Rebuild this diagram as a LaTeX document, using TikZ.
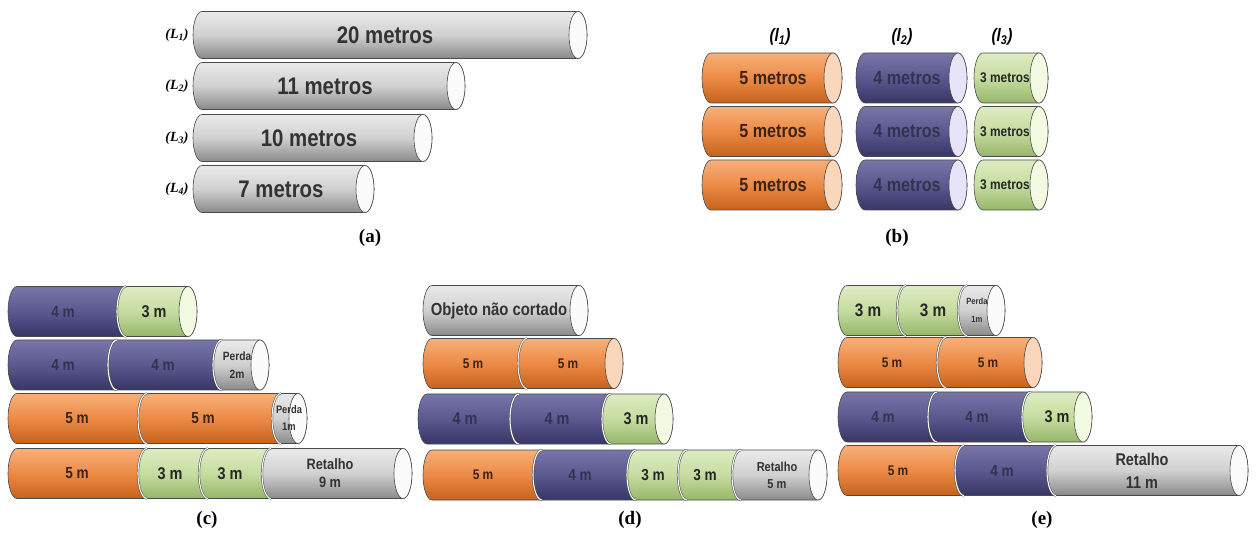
\documentclass[tikz,border=0pt]{standalone}
\usepackage{fontspec}
\usepackage{tikz}
\newfontfamily\cylf[FakeStretch=0.85]{Liberation Sans}
\newfontfamily\capf{Liberation Serif}

\definecolor{edge}{HTML}{4A4A4A}
\definecolor{grayT}{HTML}{EAEAEA}
\definecolor{grayM}{HTML}{D0D0D0}
\definecolor{grayB}{HTML}{8A8A8A}
\definecolor{grayF}{HTML}{FBFBFB}
\definecolor{orgT}{HTML}{F7B07A}
\definecolor{orgM}{HTML}{EC8A46}
\definecolor{orgB}{HTML}{C5621C}
\definecolor{orgF}{HTML}{FAD6BA}
\definecolor{purT}{HTML}{7876A8}
\definecolor{purM}{HTML}{5A588E}
\definecolor{purB}{HTML}{383665}
\definecolor{purF}{HTML}{E6E4F6}
\definecolor{grnT}{HTML}{DDECC2}
\definecolor{grnM}{HTML}{C6DCA0}
\definecolor{grnB}{HTML}{96B66A}
\definecolor{grnF}{HTML}{F2FAE2}
\definecolor{txtg}{HTML}{333333}
\definecolor{txto}{HTML}{3B2412}
\definecolor{txtp}{HTML}{34334F}
\definecolor{txtv}{HTML}{262626}

\tikzset{
  gbody/.style={top color=grayT, bottom color=grayB, middle color=grayM, draw=edge, line width=0.6pt},
  obody/.style={top color=orgT, bottom color=orgB, middle color=orgM, draw=edge, line width=0.6pt},
  pbody/.style={top color=purT, bottom color=purB, middle color=purM, draw=edge, line width=0.6pt},
  vbody/.style={top color=grnT, bottom color=grnB, middle color=grnM, draw=edge, line width=0.6pt},
  gface/.style={fill=grayF, draw=edge, line width=0.6pt},
  oface/.style={fill=orgF, draw=edge, line width=0.6pt},
  pface/.style={fill=purF, draw=edge, line width=0.6pt},
  vface/.style={fill=grnF, draw=edge, line width=0.6pt},
  sz/.style={font={\cylf\bfseries\fontsize{#1}{#1}\selectfont}, align=center, inner sep=0pt},
  txg/.style={text=txtg}, txo/.style={text=txto}, txp/.style={text=txtp}, txv/.style={text=txtv},
  subcap/.style={font={\capf\bfseries\fontsize{19}{19}\selectfont}},
  lname/.style={font={\capf\bfseries\itshape\fontsize{14}{14}\selectfont}},
  sname/.style={font={\cylf\bfseries\itshape\fontsize{18}{18}\selectfont}}
}

% one piece of a cylinder: style, left x, right x, centre y
\newcommand{\cylpart}[4]{%
  \path[#1] ({#2},{#4+\ry}) arc[start angle=90,end angle=270,x radius=\rx,y radius=\ry]
    -- ({#3},{#4-\ry}) arc[start angle=-90,end angle=90,x radius=\rx,y radius=\ry] -- cycle;}
% visible end of a cylinder
\newcommand{\cylend}[3]{\path[#1] (#2,#3) ellipse[x radius=\rx,y radius=\ry];}
% cut between two pieces
\newcommand{\cylcut}[2]{\draw[edge, line width=0.5pt, double=white, double distance=1.1pt]
  ({#1},{#2+\ry}) arc[start angle=90,end angle=270,x radius=\rx,y radius=\ry];}
\def\rx{9}
\def\ry{25}

\begin{document}
\begin{tikzpicture}[x=1pt,y=1pt]
\useasboundingbox (0,0) rectangle (1257,538);

% (a) objects
\begin{scope}
\def\ry{23.5}
\cylpart{gbody}{202}{578}{503} \cylend{gface}{578}{503}
\cylpart{gbody}{202}{456}{452} \cylend{gface}{456}{452}
\cylpart{gbody}{202}{423}{400} \cylend{gface}{423}{400}
\cylpart{gbody}{202}{365}{349} \cylend{gface}{365}{349}
\end{scope}
\node[sz=24,txg] (a1) at (385,503) {20 metros};
\node[sz=24,txg] (a2) at (325,452) {11 metros};
\node[sz=24,txg] (a3) at (309,400) {10 metros};
\node[sz=24,txg] (a4) at (281,349) {7 metros};
\node[lname] (L1) at (177,503) {(L\textsubscript{1})};
\node[lname] (L2) at (177,452) {(L\textsubscript{2})};
\node[lname] (L3) at (177,400) {(L\textsubscript{3})};
\node[lname] (L4) at (177,349) {(L\textsubscript{4})};
\node[subcap] (capa) at (370,300) {(a)};

% (b) items
\cylpart{obody}{711}{833}{460} \cylend{oface}{833}{460}
\cylpart{obody}{711}{833}{406.5} \cylend{oface}{833}{406.5}
\cylpart{obody}{711}{833}{353} \cylend{oface}{833}{353}
\cylpart{pbody}{865}{958}{460} \cylend{pface}{958}{460}
\cylpart{pbody}{865}{958}{406.5} \cylend{pface}{958}{406.5}
\cylpart{pbody}{865}{958}{353} \cylend{pface}{958}{353}
\cylpart{vbody}{983}{1039}{460} \cylend{vface}{1039}{460}
\cylpart{vbody}{983}{1039}{406.5} \cylend{vface}{1039}{406.5}
\cylpart{vbody}{983}{1039}{353} \cylend{vface}{1039}{353}
\node[sz=19,txo] (b11) at (773,460) {5 metros};
\node[sz=19,txo] (b12) at (773,406.5) {5 metros};
\node[sz=19,txo] (b13) at (773,353) {5 metros};
\node[sz=19,txp] (b21) at (907,460) {4 metros};
\node[sz=19,txp] (b22) at (907,406.5) {4 metros};
\node[sz=19,txp] (b23) at (907,353) {4 metros};
\node[sz=14,txv] (b31) at (1005,460) {3 metros};
\node[sz=14,txv] (b32) at (1005,406.5) {3 metros};
\node[sz=14,txv] (b33) at (1005,353) {3 metros};
\node[sname] (l1) at (780,501) {(l\textsubscript{1})};
\node[sname] (l2) at (902,501) {(l\textsubscript{2})};
\node[sname] (l3) at (1002,501) {(l\textsubscript{3})};
\node[subcap] (capb) at (897,300) {(b)};

% (c)
\cylpart{pbody}{17}{126}{226.5} \cylpart{vbody}{126}{188}{226.5} \cylcut{126}{226.5} \cylend{vface}{188}{226.5}
\cylpart{pbody}{17}{117}{173} \cylpart{pbody}{117}{222}{173} \cylcut{117}{173}
\cylpart{gbody}{222}{260}{173} \cylcut{222}{173} \cylend{gface}{260}{173}
\cylpart{obody}{17}{147}{119.5} \cylpart{obody}{147}{281}{119.5} \cylcut{147}{119.5}
\cylpart{gbody}{281}{298}{119.5} \cylcut{281}{119.5} \cylend{gface}{298}{119.5}
\cylpart{obody}{17}{147}{64.5} \cylpart{vbody}{147}{208}{64.5} \cylcut{147}{64.5}
\cylpart{vbody}{208}{271}{64.5} \cylcut{208}{64.5}
\cylpart{gbody}{271}{403}{64.5} \cylcut{271}{64.5} \cylend{gface}{403}{64.5}
\node[sz=16,txp] (c11) at (63,226.5) {4 m};
\node[sz=17,txv] (c12) at (154,226.5) {3 m};
\node[sz=16,txp] (c21) at (63,173) {4 m};
\node[sz=16,txp] (c22) at (163,173) {4 m};
\node[sz=12,txg] (c23) at (237,173) {Perda\\[6pt]2m};
\node[sz=16,txo] (c31) at (77,119.5) {5 m};
\node[sz=16,txo] (c32) at (203,119.5) {5 m};
\node[sz=11,txg] (c33) at (289,119.5) {Perda\\[6pt]1m};
\node[sz=16,txo] (c41) at (77,64.5) {5 m};
\node[sz=17,txv] (c42) at (170,64.5) {3 m};
\node[sz=17,txv] (c43) at (230,64.5) {3 m};
\node[sz=15,txg] (c44) at (330,64.5) {Retalho\\[3pt]9 m};
\node[subcap] (capc) at (207,18) {(c)};

% (d)
\cylpart{gbody}{432}{579}{227.5} \cylend{gface}{579}{227.5}
\cylpart{obody}{432}{527}{174.5} \cylpart{obody}{527}{614}{174.5} \cylcut{527}{174.5} \cylend{oface}{614}{174.5}
\cylpart{pbody}{427}{519}{119} \cylpart{pbody}{519}{611}{119} \cylcut{519}{119}
\cylpart{vbody}{611}{664}{119} \cylcut{611}{119} \cylend{vface}{664}{119}
\cylpart{obody}{432}{542}{63} \cylpart{pbody}{542}{636}{63} \cylcut{542}{63}
\cylpart{vbody}{636}{687}{63} \cylcut{636}{63}
\cylpart{vbody}{687}{741}{63} \cylcut{687}{63}
\cylpart{gbody}{741}{818}{63} \cylcut{741}{63} \cylend{gface}{818}{63}
\node[sz=17.5,txg] (d11) at (499,227.5) {Objeto não cortado};
\node[sz=14,txo] (d21) at (473,174.5) {5 m};
\node[sz=14,txo] (d22) at (568,174.5) {5 m};
\node[sz=17,txp] (d31) at (465,119) {4 m};
\node[sz=17,txp] (d32) at (557,119) {4 m};
\node[sz=17,txv] (d33) at (636,119) {3 m};
\node[sz=14,txo] (d41) at (483,63) {5 m};
\node[sz=16,txp] (d42) at (580,63) {4 m};
\node[sz=16,txv] (d43) at (653,63) {3 m};
\node[sz=16,txv] (d44) at (705,63) {3 m};
\node[sz=13,txg] (d45) at (777,63) {Retalho\\[4pt]5 m};
\node[subcap] (capd) at (630,18) {(d)};

% (e)
\cylpart{vbody}{847}{906}{227.5} \cylpart{vbody}{906}{967}{227.5} \cylcut{906}{227.5}
\cylpart{gbody}{967}{996}{227.5} \cylcut{967}{227.5} \cylend{gface}{996}{227.5}
\cylpart{obody}{847}{946}{175.5} \cylpart{obody}{946}{1033}{175.5} \cylcut{946}{175.5} \cylend{oface}{1033}{175.5}
\cylpart{pbody}{847}{937}{121} \cylpart{pbody}{937}{1031}{121} \cylcut{937}{121}
\cylpart{vbody}{1031}{1083}{121} \cylcut{1031}{121} \cylend{vface}{1083}{121}
\cylpart{obody}{847}{964}{67.5} \cylpart{pbody}{964}{1056}{67.5} \cylcut{964}{67.5}
\cylpart{gbody}{1056}{1239}{67.5} \cylcut{1056}{67.5} \cylend{gface}{1239}{67.5}
\node[sz=18,txv] (e11) at (868,227.5) {3 m};
\node[sz=18,txv] (e12) at (933,227.5) {3 m};
\node[sz=9,txg] (e13) at (977,227.5) {Perda\\[9pt]1m};
\node[sz=14,txo] (e21) at (892,175.5) {5 m};
\node[sz=14,txo] (e22) at (988,175.5) {5 m};
\node[sz=16,txp] (e31) at (883,121) {4 m};
\node[sz=16,txp] (e32) at (977,121) {4 m};
\node[sz=17,txv] (e33) at (1057,121) {3 m};
\node[sz=14,txo] (e41) at (898,67.5) {5 m};
\node[sz=16,txp] (e42) at (1002,67.5) {4 m};
\node[sz=17,txg] (e43) at (1142,67.5) {Retalho\\[6pt]11 m};
\node[subcap] (cape) at (1042,18) {(e)};
\end{tikzpicture}
\end{document}
